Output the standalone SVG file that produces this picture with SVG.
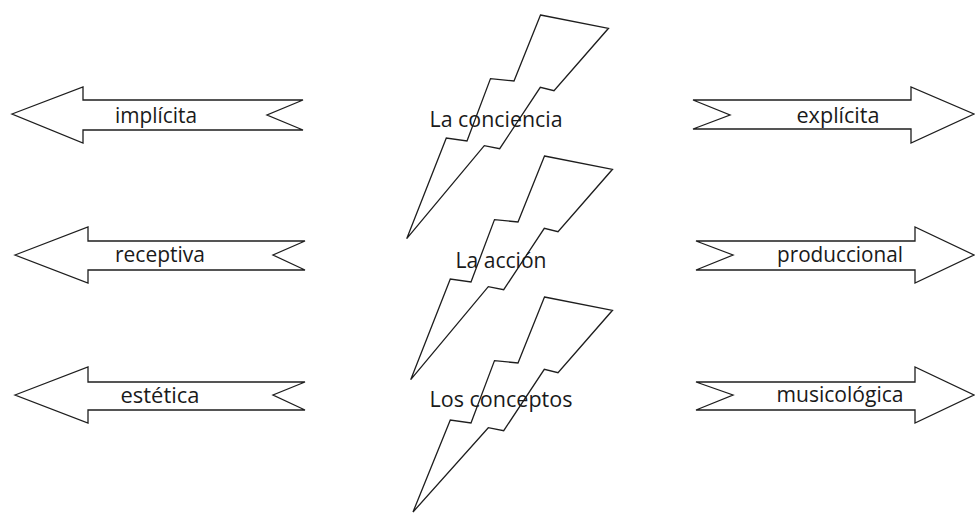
<svg xmlns="http://www.w3.org/2000/svg" width="975" height="513" viewBox="0 0 975 513">
<style>
.shape{fill:#ffffff;stroke:#1e1e1e;stroke-width:1.3;stroke-linejoin:miter}
.bolt{fill:none;stroke:#1e1e1e;stroke-width:1.3;stroke-linejoin:miter}
.lbl{font-family:"Open Sans","Noto Sans","Liberation Sans",sans-serif;font-size:21px;fill:#1a1a1a;text-anchor:middle}
</style>
<rect width="975" height="513" fill="#ffffff"/>
<g id="arrow-implicita">
<polygon class="shape" points="12,114 83,87 83,100 303,100 267,115 303,130 83,130 83,143"/>
<text class="lbl" x="156" y="123" textLength="82" lengthAdjust="spacingAndGlyphs">implícita</text>
</g>
<g id="arrow-receptiva">
<polygon class="shape" points="15,255 88,227 88,241 305,241 273,255 305,270 88,270 88,283"/>
<text class="lbl" x="160" y="262" textLength="90" lengthAdjust="spacingAndGlyphs">receptiva</text>
</g>
<g id="arrow-estetica">
<polygon class="shape" points="15,395 88,367 88,382 305,382 273,395 305,410 88,410 88,423"/>
<text class="lbl" x="160" y="403" textLength="79" lengthAdjust="spacingAndGlyphs">estética</text>
</g>
<g id="arrow-explicita">
<polygon class="shape" points="693,100 911,100 911,87 974,114 911,143 911,129 693,129 730,115"/>
<text class="lbl" x="838" y="123" textLength="83" lengthAdjust="spacingAndGlyphs">explícita</text>
</g>
<g id="arrow-produccional">
<polygon class="shape" points="696,241 915,241 915,227 974,255 915,283 915,270 696,270 733,255"/>
<text class="lbl" x="840" y="262" textLength="126" lengthAdjust="spacingAndGlyphs">produccional</text>
</g>
<g id="arrow-musicologica">
<polygon class="shape" points="696,382 915,382 915,367 974,395 915,423 915,410 696,410 733,395"/>
<text class="lbl" x="840" y="402" textLength="127" lengthAdjust="spacingAndGlyphs">musicológica</text>
</g>
<g id="bolt-conciencia">
<polygon class="bolt" transform="translate(-4,-141)" points="544.5,156 612.5,169.3 558,231.7 544.3,228.3 503.7,289.7 488.3,286.7 410.7,379.7 450.3,279 471,282 494.5,219.6 518,222"/>
<text class="lbl" x="496" y="127" textLength="133" lengthAdjust="spacingAndGlyphs">La conciencia</text>
</g>
<g id="bolt-accion">
<polygon class="bolt" points="544.5,156 612.5,169.3 558,231.7 544.3,228.3 503.7,289.7 488.3,286.7 410.7,379.7 450.3,279 471,282 494.5,219.6 518,222"/>
<text class="lbl" x="501" y="268" textLength="91" lengthAdjust="spacingAndGlyphs">La acción</text>
</g>
<g id="bolt-conceptos">
<polygon class="bolt" points="544.5,297 612.5,310.3 558,372.7 544.3,369.3 503.7,430.7 488.3,427.7 413,512 450.3,420 471,423 494.5,360.6 518,363"/>
<text class="lbl" x="501" y="407" textLength="143" lengthAdjust="spacingAndGlyphs">Los conceptos</text>
</g>
</svg>
